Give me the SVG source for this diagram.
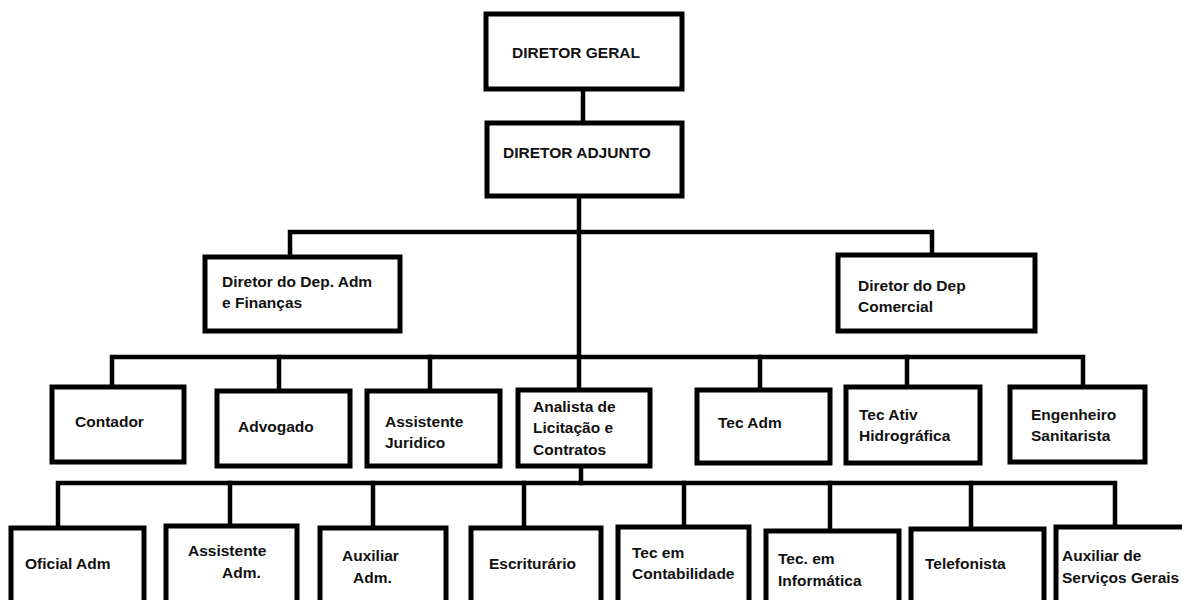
<svg xmlns="http://www.w3.org/2000/svg" width="1182" height="600" viewBox="0 0 1182 600">
<style>
.box{fill:#fff;stroke:#000;stroke-width:5}
.ln{fill:none;stroke:#000;stroke-width:4.5;stroke-linecap:square}
text{font-family:"Liberation Sans",Arial,sans-serif;font-weight:bold;font-size:15.5px;fill:#111}
</style>
<rect width="1182" height="600" fill="#fff"/>
<g id="connectors">
<path class="ln" d="M583 90V122"/>
<path class="ln" d="M579 197V390"/>
<path class="ln" d="M290 257V232H932V255"/>
<path class="ln" d="M112 387V357H1083V387"/>
<path class="ln" d="M279 357V391M430 357V391M760 357V390M907 357V387"/>
<path class="ln" d="M581 466V483"/>
<path class="ln" d="M58 528V483H1115V527"/>
<path class="ln" d="M230 483V526M373 483V528M524 483V528M684 483V527M830 483V531M971 483V529"/>
</g>
<g id="n-diretor-geral"><rect class="box" x="486" y="14" width="196" height="75"/><text x="512" y="58">DIRETOR GERAL</text></g>
<g id="n-diretor-adjunto"><rect class="box" x="487" y="123" width="195" height="73"/><text x="503" y="158">DIRETOR ADJUNTO</text></g>
<g id="n-dir-adm"><rect class="box" x="205" y="257" width="195" height="74"/><text x="222" y="287">Diretor do Dep. Adm</text><text x="222" y="308">e Finanças</text></g>
<g id="n-dir-com"><rect class="box" x="838" y="255" width="197" height="76"/><text x="858" y="291">Diretor do Dep</text><text x="858" y="312">Comercial</text></g>
<g id="n-contador"><rect class="box" x="52" y="387" width="132" height="75"/><text x="75" y="427">Contador</text></g>
<g id="n-advogado"><rect class="box" x="217" y="391" width="133" height="75"/><text x="238" y="432">Advogado</text></g>
<g id="n-assist-jur"><rect class="box" x="367" y="391" width="133" height="75"/><text x="385" y="427">Assistente</text><text x="385" y="448">Juridico</text></g>
<g id="n-analista"><rect class="box" x="518" y="390" width="132" height="76"/><text x="533" y="412">Analista de</text><text x="533" y="433">Licitação e</text><text x="533" y="455">Contratos</text></g>
<g id="n-tec-adm"><rect class="box" x="697" y="390" width="133" height="73"/><text x="718" y="428">Tec Adm</text></g>
<g id="n-tec-ativ"><rect class="box" x="846" y="387" width="134" height="76"/><text x="859" y="420">Tec Ativ</text><text x="859" y="441">Hidrográfica</text></g>
<g id="n-engenheiro"><rect class="box" x="1010" y="387" width="135" height="75"/><text x="1031" y="420">Engenheiro</text><text x="1031" y="441">Sanitarista</text></g>
<g id="n-oficial"><rect class="box" x="11" y="528" width="133" height="85"/><text x="25" y="569">Oficial Adm</text></g>
<g id="n-assist-adm"><rect class="box" x="166" y="526" width="131" height="85"/><text x="188" y="556">Assistente</text><text x="222" y="578">Adm.</text></g>
<g id="n-aux-adm"><rect class="box" x="320" y="528" width="126" height="85"/><text x="342" y="561">Auxiliar</text><text x="353" y="583">Adm.</text></g>
<g id="n-escrit"><rect class="box" x="471" y="528" width="130" height="85"/><text x="489" y="569">Escriturário</text></g>
<g id="n-tec-contab"><rect class="box" x="618" y="527" width="131" height="85"/><text x="632" y="558">Tec em</text><text x="632" y="579">Contabilidade</text></g>
<g id="n-tec-info"><rect class="box" x="766" y="531" width="133" height="85"/><text x="778" y="564">Tec. em</text><text x="778" y="586">Informática</text></g>
<g id="n-telefonista"><rect class="box" x="911" y="529" width="133" height="85"/><text x="925" y="569">Telefonista</text></g>
<g id="n-aux-serv"><rect class="box" x="1056" y="527" width="140" height="85"/><text x="1062" y="561">Auxiliar de</text><text x="1062" y="583">Serviços Gerais</text></g>
</svg>
